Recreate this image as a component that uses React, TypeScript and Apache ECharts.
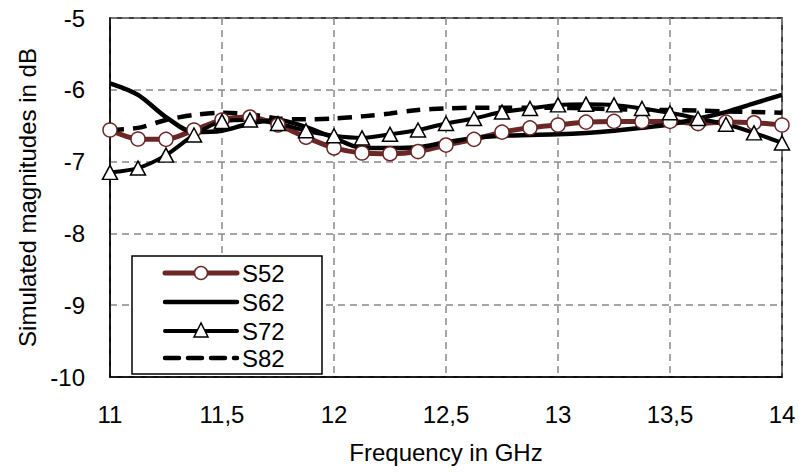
import React, { useEffect, useRef } from "react";
import * as echarts from "echarts";

const freqs = [11, 11.125, 11.25, 11.375, 11.5, 11.625, 11.75, 11.875, 12, 12.125, 12.25, 12.375, 12.5, 12.625, 12.75, 12.875, 13, 13.125, 13.25, 13.375, 13.5, 13.625, 13.75, 13.875, 14];
const s52 = [-6.56, -6.685, -6.69, -6.56, -6.42, -6.38, -6.49, -6.66, -6.81, -6.88, -6.89, -6.86, -6.77, -6.69, -6.59, -6.53, -6.49, -6.45, -6.44, -6.44, -6.44, -6.47, -6.45, -6.46, -6.49];
const s62 = [-5.91, -6.07, -6.38, -6.59, -6.57, -6.47, -6.42, -6.52, -6.67, -6.81, -6.81, -6.8, -6.73, -6.67, -6.64, -6.63, -6.62, -6.6, -6.57, -6.53, -6.48, -6.4, -6.31, -6.19, -6.07];
const s72 = [-7.15, -7.09, -6.91, -6.63, -6.44, -6.42, -6.47, -6.57, -6.64, -6.67, -6.62, -6.56, -6.47, -6.4, -6.31, -6.26, -6.21, -6.2, -6.21, -6.26, -6.32, -6.4, -6.48, -6.6, -6.74];
const s82 = [-6.56, -6.53, -6.42, -6.35, -6.32, -6.34, -6.4, -6.41, -6.4, -6.37, -6.33, -6.28, -6.26, -6.25, -6.25, -6.25, -6.25, -6.26, -6.27, -6.28, -6.28, -6.29, -6.3, -6.31, -6.32];
const seriesNames = ["S52", "S62", "S72", "S82"];

const FONT = "'Liberation Sans', Arial, sans-serif";
const RED = "#6b2626";
const FS = 24;

function pairs(ys: number[]) {
  return freqs.map((f, i) => [f, ys[i]]);
}

function legendGraphics() {
  const x0 = 165;
  const x1 = 237;
  const ys = [273, 302, 331, 358];
  const els: any[] = [
    {
      type: "rect",
      shape: { x: 132, y: 256, width: 190, height: 118 },
      style: { fill: "#fff", stroke: "#000", lineWidth: 1.5 },
      z: 10,
    },
  ];
  const styles = [
    { stroke: RED, lineWidth: 5 },
    { stroke: "#000", lineWidth: 4.5 },
    { stroke: "#000", lineWidth: 4 },
    { stroke: "#000", lineWidth: 4.5, lineDash: [14, 9] },
  ];
  seriesNames.forEach((name, i) => {
    const y = ys[i];
    els.push({
      type: "line",
      shape: { x1: x0, y1: y, x2: x1, y2: y },
      style: { ...styles[i], lineCap: "round" },
      z: 11,
    });
    if (i === 0) {
      els.push({
        type: "circle",
        shape: { cx: (x0 + x1) / 2, cy: y, r: 6.5 },
        style: { fill: "#fff", stroke: RED, lineWidth: 1.5 },
        z: 12,
      });
    }
    if (i === 2) {
      const cx = (x0 + x1) / 2;
      els.push({
        type: "polygon",
        shape: { points: [[cx, y - 8], [cx - 7, y + 6], [cx + 7, y + 6]] },
        style: { fill: "#fff", stroke: "#000", lineWidth: 1.5 },
        z: 12,
      });
    }
    els.push({
      type: "text",
      x: 242,
      y: y,
      style: { text: name, fontFamily: FONT, fontSize: FS, fill: "#000", verticalAlign: "middle", align: "left" },
      z: 12,
    });
  });
  return els;
}

export default function App() {
  const ref = useRef<HTMLDivElement>(null);
  useEffect(() => {
    if (!ref.current) return;
    const chart = echarts.init(ref.current, null, { renderer: "svg" });
    chart.setOption({
      animation: false,
      backgroundColor: "#ffffff",
      grid: { left: 110, right: 17, top: 18, bottom: 98, show: true, borderColor: "#000", borderWidth: 1.5, backgroundColor: "transparent" },
      xAxis: {
        type: "value",
        min: 11,
        max: 14,
        interval: 0.5,
        name: "Frequency in GHz",
        nameLocation: "middle",
        nameGap: 63,
        nameTextStyle: { fontFamily: FONT, fontSize: FS, color: "#000" },
        axisLine: { show: true, lineStyle: { color: "#000", width: 1.5 } },
        axisTick: { show: false },
        axisLabel: {
          fontFamily: FONT,
          fontSize: FS,
          color: "#000",
          margin: 25,
          formatter: (v: number) => String(v).replace(".", ","),
        },
        splitLine: { show: true, lineStyle: { color: "#888", type: [7, 5], width: 1.5 } },
      },
      yAxis: {
        type: "value",
        min: -10,
        max: -5,
        interval: 1,
        name: "Simulated magnitudes in dB",
        nameLocation: "middle",
        nameGap: 69,
        nameTextStyle: { fontFamily: FONT, fontSize: FS, color: "#000" },
        axisLine: { show: true, lineStyle: { color: "#000", width: 1.5 } },
        axisTick: { show: false },
        axisLabel: { fontFamily: FONT, fontSize: FS, color: "#000", margin: 25 },
        splitLine: { show: true, lineStyle: { color: "#888", type: [7, 5], width: 1.5 } },
      },
      graphic: legendGraphics(),
      series: [
        {
          name: "S52",
          type: "line",
          data: pairs(s52),
          smooth: 0.3,
          symbol: "circle",
          symbolSize: 14,
          lineStyle: { color: RED, width: 5 },
          itemStyle: { color: "#fff", borderColor: RED, borderWidth: 1.5 },
        },
        {
          name: "S62",
          type: "line",
          data: pairs(s62),
          smooth: 0.3,
          symbol: "none",
          lineStyle: { color: "#000", width: 4.5 },
        },
        {
          name: "S72",
          type: "line",
          data: pairs(s72),
          smooth: 0.3,
          symbol: "triangle",
          symbolSize: [15, 14],
          lineStyle: { color: "#000", width: 4 },
          itemStyle: { color: "#fff", borderColor: "#000", borderWidth: 1.5 },
        },
        {
          name: "S82",
          type: "line",
          data: pairs(s82),
          smooth: 0.3,
          symbol: "none",
          lineStyle: { color: "#000", width: 4.5, type: [14, 9] },
        },
      ],
    });
    return () => chart.dispose();
  }, []);
  return <div ref={ref} style={{ position: "absolute", left: 0, top: 0, width: 799, height: 475 }} />;
}
